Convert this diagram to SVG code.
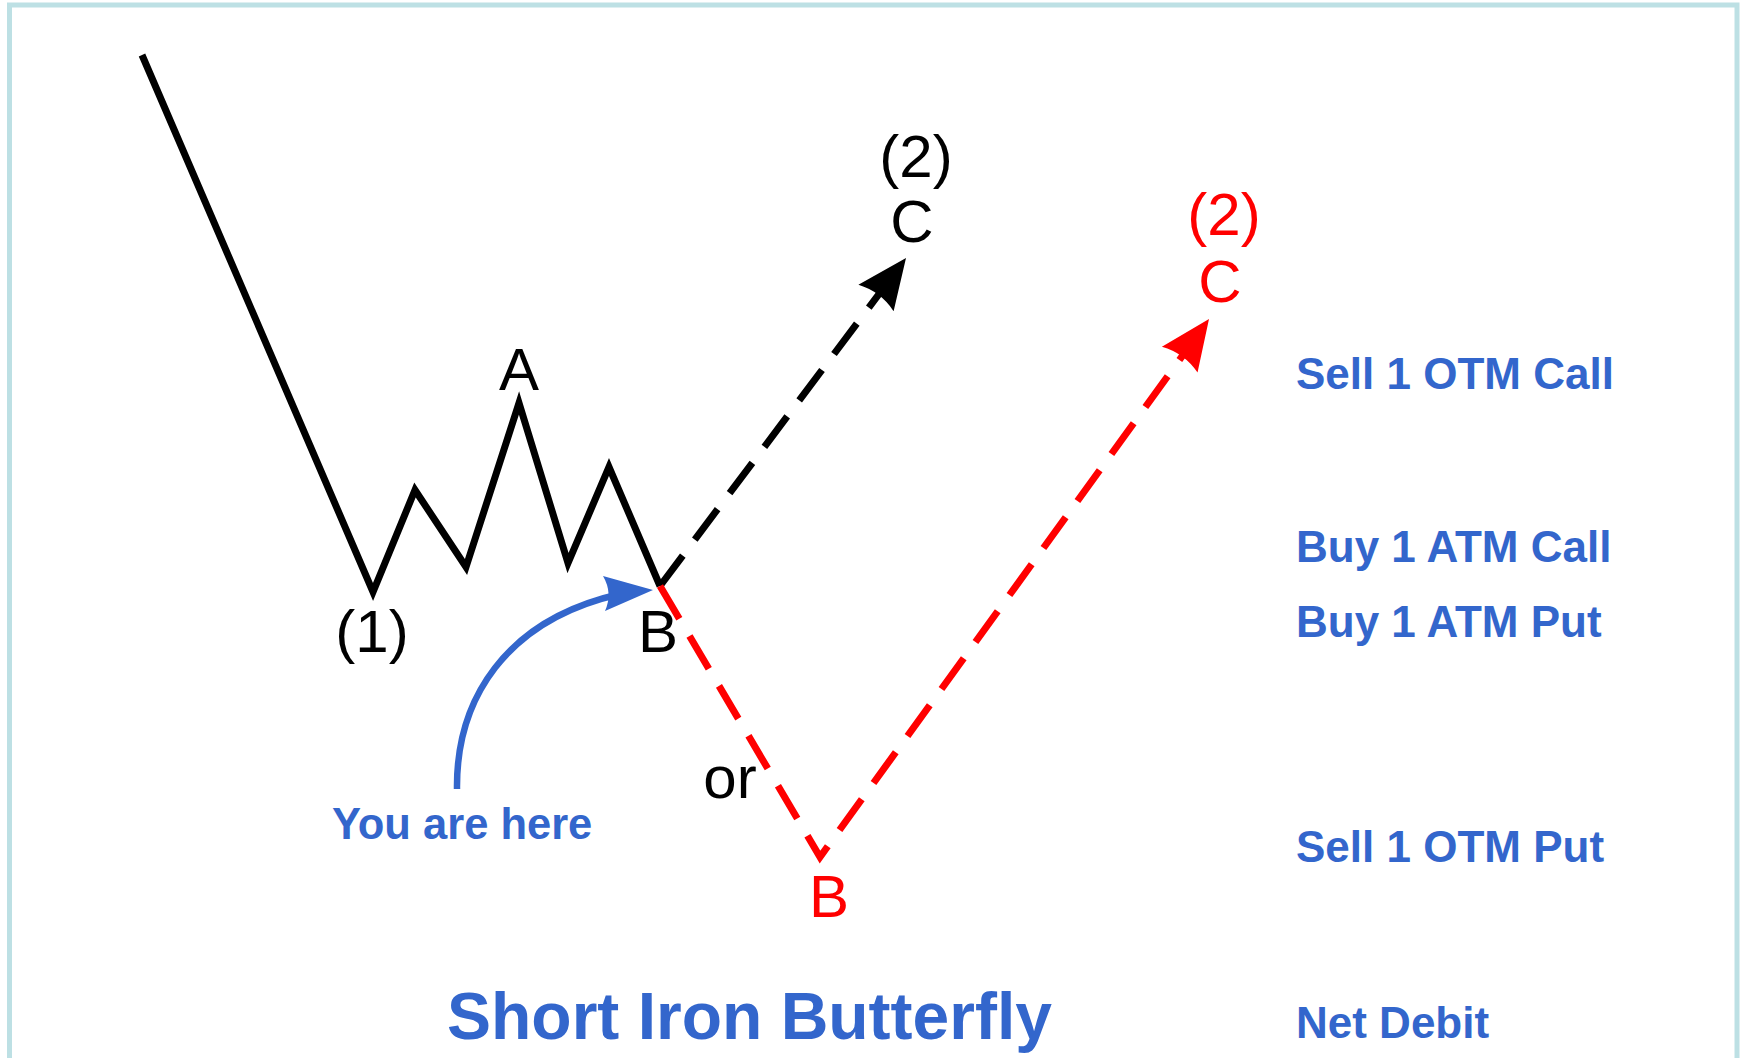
<svg xmlns="http://www.w3.org/2000/svg" width="1741" height="1058" viewBox="0 0 1741 1058">
<style>
.lbl{font-family:"Liberation Sans",Arial,sans-serif;font-size:60px;text-anchor:middle}
.blk{fill:#000}
.red{fill:#ff0000}
.blue{font-family:"Liberation Sans",Arial,sans-serif;font-weight:bold;fill:#3366cc}
.side{font-size:44px}
.wave{fill:none;stroke:#000;stroke-width:7;stroke-linejoin:miter;stroke-miterlimit:10}
.dash{fill:none;stroke-width:7;stroke-dasharray:38 20;stroke-linejoin:miter}
</style>
<defs>
<marker id="ahBlack" markerUnits="userSpaceOnUse" orient="auto" overflow="visible" markerWidth="1" markerHeight="1" refX="0" refY="0">
<path d="M35,0 L-15,-22 Q-7,0 -15,22 Z" fill="#000"/>
</marker>
<marker id="ahRed" markerUnits="userSpaceOnUse" orient="auto" overflow="visible" markerWidth="1" markerHeight="1" refX="0" refY="0">
<path d="M35,0 L-15,-22 Q-7,0 -15,22 Z" fill="#ff0000"/>
</marker>
</defs>
<rect x="0" y="0" width="1741" height="1058" fill="#fff"/>
<rect id="frame" x="9.5" y="5" width="1727.5" height="1070" fill="none" stroke="#bde0e4" stroke-width="5"/>

<g id="connectors">
<polyline id="wave" class="wave" points="142,55 373,592 415,490 466,567 519,403 568,563 609,467 660,586"/>
<path id="up-black" class="dash" stroke="#000" d="M660,586 L885,286" marker-end="url(#ahBlack)"/>
<path id="down-red" class="dash" stroke="#ff0000" d="M660,586 L820,857 L1188.5,347.4" marker-end="url(#ahRed)"/>
<g id="you-arrow">
<path d="M457,789 C456,700 505,620 620,594" fill="none" stroke="#3366cc" stroke-width="6.5"/>
<path d="M653,590 L603,576 Q613,593 605,611 Z" fill="#3366cc"/>
</g>
</g>

<g id="node-1"><text class="lbl blk" x="372" y="652">(1)</text></g>
<g id="node-A"><text class="lbl blk" x="519" y="390">A</text></g>
<g id="node-B"><text class="lbl blk" x="658" y="652">B</text></g>
<g id="node-2-black"><text class="lbl blk" x="916" y="177">(2)</text></g>
<g id="node-C-black"><text class="lbl blk" x="912" y="242">C</text></g>
<g id="node-2-red"><text class="lbl red" x="1224" y="235">(2)</text></g>
<g id="node-C-red"><text class="lbl red" x="1220" y="302">C</text></g>
<g id="node-B-red"><text class="lbl red" x="829" y="917">B</text></g>
<g id="node-or"><text class="lbl blk" x="730" y="798">or</text></g>
<g id="node-you"><text class="blue" x="332" y="839" font-size="43.5">You are here</text></g>

<g id="legs">
<text class="blue side" x="1296" y="389">Sell 1 OTM Call</text>
<text class="blue side" x="1296" y="562">Buy 1 ATM Call</text>
<text class="blue side" x="1296" y="637">Buy 1 ATM Put</text>
<text class="blue side" x="1296" y="862">Sell 1 OTM Put</text>
<text class="blue side" x="1296" y="1038">Net Debit</text>
</g>

<g id="title"><text class="blue" x="447" y="1039" font-size="66">Short Iron Butterfly</text></g>
</svg>
